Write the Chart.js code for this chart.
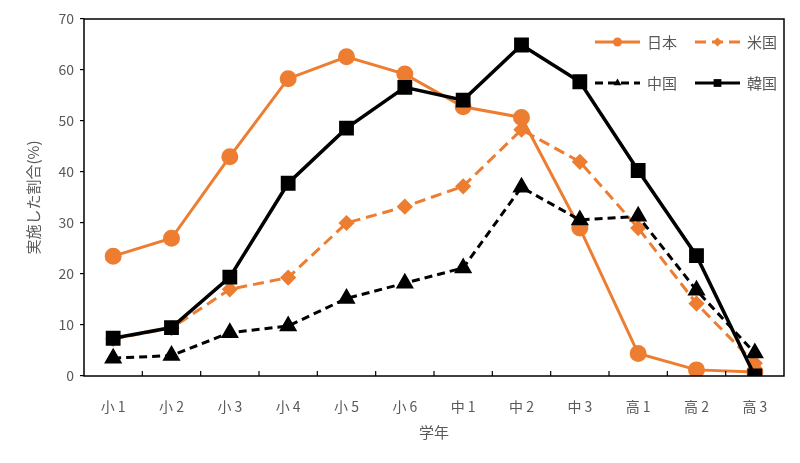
<!DOCTYPE html>
<html>
<head>
<meta charset="utf-8">
<script src="https://cdn.jsdelivr.net/npm/chart.js@4"></script>
<style>
  html, body { margin: 0; padding: 0; background: #fff; }
  #wrap { width: 800px; height: 463px; }
</style>
</head>
<body>
<div id="wrap"><canvas id="gradeChart"></canvas></div>
<script>
// grades
const grades = ['小 1', '小 2', '小 3', '小 4', '小 5', '小 6', '中 1', '中 2', '中 3', '高 1', '高 2', '高 3'];

// percentage per country
const japan = [23.5, 27.0, 43.0, 58.3, 62.6, 59.2, 52.8, 50.7, 29.0, 4.4, 1.2, 0.8];
const usa   = [7.3, 9.4, 17.0, 19.3, 30.0, 33.2, 37.2, 48.3, 42.0, 29.0, 14.2, 2.5];
const china = [3.5, 4.0, 8.5, 9.8, 15.2, 18.2, 21.2, 37.0, 30.6, 31.3, 16.8, 4.5];
const korea = [7.4, 9.5, 19.4, 37.8, 48.6, 56.6, 54.1, 64.9, 57.7, 40.3, 23.6, 0.0];

const yTicks = [0, 10, 20, 30, 40, 50, 60, 70];

const ORANGE = '#ED7D31';
const GREY = '#595959';
const FONT = "'Noto Sans CJK JP', 'Noto Sans', sans-serif";

// frame around plot + inward ticks on x axis + 2x2 legend
const framePlugin = {
    id: 'frame',
    afterDraw(chart) {
        const ctx = chart.ctx;
        const a = chart.chartArea;
        ctx.save();
        ctx.strokeStyle = '#000';
        ctx.lineWidth = 1.5;
        ctx.strokeRect(a.left, a.top, a.right - a.left, a.bottom - a.top);
        ctx.lineWidth = 1.2;
        const step = (a.right - a.left) / grades.length;
        for (let i = 1; i < grades.length; i++) {
            const px = a.left + step * i;
            ctx.beginPath();
            ctx.moveTo(px, a.bottom);
            ctx.lineTo(px, a.bottom - 5);
            ctx.stroke();
        }

        // legend
        const items = [
            { ds: 0, x: 595, y: 42 },
            { ds: 1, x: 695, y: 42 },
            { ds: 2, x: 595, y: 83 },
            { ds: 3, x: 695, y: 83 }
        ];
        ctx.font = '15px ' + FONT;
        ctx.textBaseline = 'middle';
        items.forEach(it => {
            const ds = chart.data.datasets[it.ds];
            ctx.strokeStyle = ds.borderColor;
            ctx.lineWidth = 3;
            ctx.setLineDash(ds.borderDash || []);
            ctx.beginPath();
            ctx.moveTo(it.x, it.y);
            ctx.lineTo(it.x + 45, it.y);
            ctx.stroke();
            ctx.setLineDash([]);
            ctx.fillStyle = ds.borderColor;
            Chart.helpers.drawPoint(ctx, {
                pointStyle: ds.pointStyle,
                radius: ds.pointStyle === 'rect' ? 5.5 : 4.5,
                rotation: 0,
                borderWidth: 0
            }, it.x + 22.5, it.y);
            ctx.fillStyle = GREY;
            ctx.fillText(ds.label, it.x + 52, it.y);
        });
        ctx.restore();
    }
};

const ctx = document.getElementById('gradeChart').getContext('2d');
new Chart(ctx, {
    type: 'line',
    data: {
        labels: grades,
        datasets: [
            {
                label: '日本', data: japan, order: 4,
                borderColor: ORANGE, backgroundColor: ORANGE,
                borderWidth: 3, pointStyle: 'circle', pointRadius: 7
            },
            {
                label: '米国', data: usa, order: 3,
                borderColor: ORANGE, backgroundColor: ORANGE,
                borderWidth: 3, borderDash: [11, 6], pointStyle: 'rectRot', pointRadius: 6
            },
            {
                label: '中国', data: china, order: 2,
                borderColor: '#000', backgroundColor: '#000',
                borderWidth: 3, borderDash: [8, 5], pointStyle: 'triangle', pointRadius: 7.5
            },
            {
                label: '韓国', data: korea, order: 1,
                borderColor: '#000', backgroundColor: '#000',
                borderWidth: 3.5, pointStyle: 'rect', pointRadius: 8
            }
        ]
    },
    options: {
        responsive: true,
        maintainAspectRatio: false,
        animation: false,
        layout: { padding: { top: 19, right: 16, left: 0, bottom: 0 } },
        plugins: {
            legend: { display: false },
            tooltip: { enabled: false }
        },
        elements: {
            line: { tension: 0 },
            point: { borderWidth: 0, hoverRadius: 7 }
        },
        scales: {
            x: {
                offset: true,
                grid: { display: false },
                border: { display: false },
                ticks: { color: GREY, font: { family: FONT, size: 14 }, padding: 14 },
                title: {
                    display: true, text: '学年', color: GREY,
                    font: { family: FONT, size: 15 }, padding: { top: 10, bottom: 22 }
                },
                afterFit(scale) { scale.height = 87; }
            },
            y: {
                min: 0, max: 70,
                afterBuildTicks(scale) { scale.ticks = yTicks.map(v => ({ value: v })); },
                grid: { drawOnChartArea: false, tickLength: 4, color: '#000', lineWidth: 1.2 },
                border: { display: false },
                ticks: { color: GREY, font: { family: FONT, size: 14 }, padding: 6 },
                title: {
                    display: true, text: '実施した割合(%)', color: GREY,
                    font: { family: FONT, size: 15 }, padding: { top: 24, bottom: 0 }
                },
                afterFit(scale) { scale.width = 84; }
            }
        }
    },
    plugins: [framePlugin]
});
</script>
</body>
</html>
